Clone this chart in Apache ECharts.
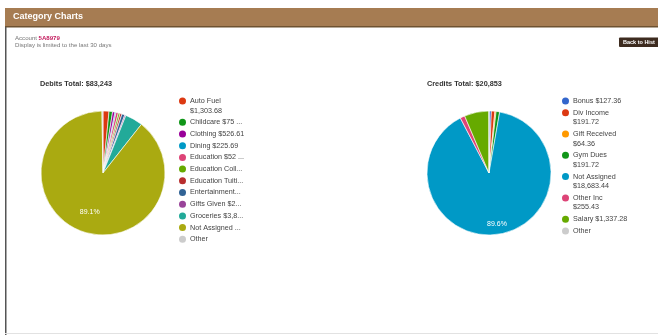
<!DOCTYPE html>
<html>
<head>
<meta charset="utf-8">
<script src="https://cdn.jsdelivr.net/npm/echarts@6/dist/echarts.min.js"></script>
<style>
  html, body { margin: 0; padding: 0; background: #fff; }
  #chart { position: absolute; left: 0; top: 0; width: 658px; height: 335px; }
</style>
</head>
<body>
<div id="chart"></div>
<script>
// ---- Debits ----
const debitNames = ['Auto Fuel', 'Childcare', 'Clothing', 'Dining', 'Education', 'Education College',
  'Education Tuition', 'Entertainment', 'Gifts Given', 'Groceries', 'Not Assigned', 'Other'];
const debitValues = [1303.68, 752.40, 526.61, 225.69, 524.00, 380.00, 410.00, 640.00, 248.00, 3842.00, 74170.00, 220.62];
const debitLegendLabels = ['Auto Fuel\n$1,303.68', 'Childcare $75 ...', 'Clothing $526.61', 'Dining $225.69',
  'Education $52 ...', 'Education Coll...', 'Education Tuiti...', 'Entertainment...', 'Gifts Given $2...',
  'Groceries $3,8...', 'Not Assigned ...', 'Other'];
const debitColors = ['#dc3912', '#109618', '#990099', '#0099c6', '#dd4477', '#66aa00', '#b82e2e', '#316395',
  '#994499', '#22aa99', '#aaaa11', '#cccccc'];

// ---- Credits ----
const creditNames = ['Bonus', 'Div Income', 'Gift Received', 'Gym Dues', 'Not Assigned', 'Other Inc', 'Salary', 'Other'];
const creditValues = [127.36, 191.72, 64.36, 191.72, 18683.44, 255.43, 1337.28, 1.69];
const creditLegendLabels = ['Bonus $127.36', 'Div Income\n$191.72', 'Gift Received\n$64.36', 'Gym Dues\n$191.72',
  'Not Assigned\n$18,683.44', 'Other Inc\n$255.43', 'Salary $1,337.28', 'Other'];
const creditColors = ['#3366cc', '#dc3912', '#ff9900', '#109618', '#0099c6', '#dd4477', '#66aa00', '#cccccc'];

const FONT = '"Liberation Sans", Arial, sans-serif';

function sum(a) { return a.reduce((s, v) => s + v, 0); }
function fmtTotal(v) { return '$' + Math.round(v).toLocaleString('en-US'); }

function makeData(names, values, colors) {
  return names.map((n, i) => ({ name: n, value: values[i], itemStyle: { color: colors[i] } }));
}

function makeLegend(names, labels, colors, left) {
  const rich = { g: { width: 4 }, sp: { width: 11 } };
  colors.forEach((c, i) => {
    rich['d' + i] = { width: 7, height: 7, borderRadius: 3.5, backgroundColor: c };
  });
  return {
    orient: 'vertical',
    left: left,
    top: 96.2,
    padding: 0,
    itemGap: 2.1,
    itemWidth: 0,
    itemHeight: 0,
    icon: 'circle',
    selectedMode: false,
    data: names,
    formatter: function (name) {
      const i = names.indexOf(name);
      const lines = labels[i].split('\n');
      let s = '{d' + i + '| }{g| }' + lines[0];
      if (lines[1]) s += '\n{sp| }' + lines[1];
      return s;
    },
    textStyle: { fontFamily: FONT, fontSize: 7.2, lineHeight: 9.6, color: '#444', rich: rich }
  };
}

function pieSeries(data, center) {
  return {
    type: 'pie',
    center: center,
    radius: [0, 62],
    startAngle: 90,
    clockwise: true,
    silent: true,
    animation: false,
    data: data,
    label: { show: false },
    labelLine: { show: false },
    itemStyle: { borderColor: '#ffffff', borderWidth: 0.6 }
  };
}

function labelSeries(data, center, r0) {
  return {
    type: 'pie',
    center: center,
    radius: [r0, 62],
    startAngle: 90,
    clockwise: true,
    silent: true,
    animation: false,
    avoidLabelOverlap: false,
    data: data.map(d => ({ name: d.name, value: d.value })),
    itemStyle: { color: 'rgba(0,0,0,0)', borderWidth: 0 },
    labelLine: { show: false },
    label: {
      show: true,
      position: 'inside',
      color: '#ffffff',
      fontFamily: FONT,
      fontSize: 7,
      formatter: p => (p.percent >= 50 ? p.percent.toFixed(1) + '%' : '')
    }
  };
}

const debitData = makeData(debitNames, debitValues, debitColors);
const creditData = makeData(creditNames, creditValues, creditColors);

const chart = echarts.init(document.getElementById('chart'), null, { renderer: 'canvas' });
chart.setOption({
  backgroundColor: '#ffffff',
  animation: false,
  title: [
    { text: 'Debits Total: ' + fmtTotal(sum(debitValues)), left: 40, top: 80, padding: 0,
      textStyle: { fontFamily: FONT, fontSize: 7.3, fontWeight: 'bold', color: '#333' } },
    { text: 'Credits Total: ' + fmtTotal(sum(creditValues)), left: 427, top: 80, padding: 0,
      textStyle: { fontFamily: FONT, fontSize: 7.3, fontWeight: 'bold', color: '#333' } }
  ],
  legend: [
    makeLegend(debitNames, debitLegendLabels, debitColors, 173),
    makeLegend(creditNames, creditLegendLabels, creditColors, 556)
  ],
  graphic: [
    { type: 'rect', silent: true, shape: { x: 5, y: 8, width: 653, height: 19 }, style: { fill: '#a67c52' } },
    { type: 'rect', silent: true, shape: { x: 5, y: 26, width: 653, height: 1.5 }, style: { fill: '#6e5231' } },
    { type: 'rect', silent: true, shape: { x: 5, y: 27, width: 1.5, height: 308 }, style: { fill: '#555555' } },
    { type: 'rect', silent: true, shape: { x: 5, y: 333, width: 653, height: 1 }, style: { fill: '#e2e2e2' } },
    { type: 'text', silent: true, x: 13, y: 17,
      style: { text: 'Category Charts', fill: '#ffffff', font: 'bold 9px ' + FONT, verticalAlign: 'middle' } },
    { type: 'text', silent: true, x: 15, y: 38.5,
      style: { text: 'Account', fill: '#777777', font: '6.1px ' + FONT, verticalAlign: 'middle' } },
    { type: 'text', silent: true, x: 38.5, y: 38.5,
      style: { text: '5A8979', fill: '#c2185b', font: 'bold 6.1px ' + FONT, verticalAlign: 'middle' } },
    { type: 'text', silent: true, x: 15, y: 45,
      style: { text: 'Display is limited to the last 30 days', fill: '#777777', font: '6.1px ' + FONT, verticalAlign: 'middle' } },
    { type: 'rect', silent: true, shape: { x: 619, y: 37.5, width: 42, height: 9.5, r: 1 }, style: { fill: '#3d2b1f' } },
    { type: 'text', silent: true, x: 623, y: 42.3,
      style: { text: 'Back to Hist', fill: '#ffffff', font: 'bold 5.5px ' + FONT, verticalAlign: 'middle' } }
  ],
  series: [
    pieSeries(debitData, [103, 173]),
    pieSeries(creditData, [489, 173]),
    labelSeries(debitData, [103, 173], 15),
    labelSeries(creditData, [489, 173], 36)
  ]
});
</script>
</body>
</html>
